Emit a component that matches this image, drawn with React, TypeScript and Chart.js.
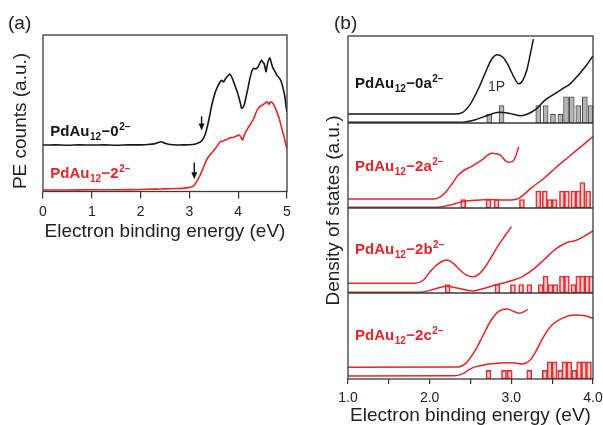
import React, { useEffect, useRef } from 'react';
import { Chart, registerables } from 'chart.js';

Chart.register(...registerables);

const FONT = '"Liberation Sans", Arial, Helvetica, sans-serif';

// ---------- Panel (a): photoelectron spectra ----------
const pesTickValues = [0, 1, 2, 3, 4, 5];
const pes0: [number, number][] = [
  [0, 29.7], [0.25, 29.8], [0.5, 29.6], [0.75, 29.8], [1, 29.7], [1.25, 29.8], [1.5, 29.6], [1.75, 29.8],
  [2, 29.8], [2.15, 30.0], [2.3, 30.6], [2.38, 31.5], [2.43, 31.8], [2.5, 30.8], [2.6, 30.0], [2.75, 29.7],
  [2.9, 29.8], [3.0, 29.9], [3.1, 30.2], [3.18, 31.0], [3.25, 32.3], [3.32, 36.1], [3.39, 44.6], [3.46, 55.3],
  [3.52, 62.5], [3.57, 66.5], [3.62, 69.5], [3.66, 71.0], [3.7, 70.0], [3.74, 72.0], [3.78, 73.6], [3.83, 75.0],
  [3.88, 72.3], [3.93, 68], [3.97, 64.5], [4.0, 61.7], [4.04, 57], [4.07, 53.2], [4.1, 53.8], [4.13, 56],
  [4.17, 61.7], [4.21, 67.5], [4.24, 72.3], [4.29, 77.6], [4.33, 78.8], [4.36, 78.3], [4.41, 79.7], [4.45, 82.5],
  [4.48, 84], [4.51, 82.3], [4.53, 81.9], [4.57, 76.5], [4.59, 80], [4.61, 82.9], [4.65, 85.5], [4.68, 81.9],
  [4.71, 79], [4.74, 77.6], [4.79, 74.4], [4.85, 72.3], [4.89, 69.5], [4.92, 65.9], [4.96, 60], [4.98, 54.2], [5.0, 51],
];
const pes2: [number, number][] = [
  [0, 1.0], [0.5, 1.0], [1, 1.1], [1.5, 1.1], [2, 1.3], [2.3, 1.5], [2.5, 1.7], [2.7, 1.9], [2.85, 2.0],
  [2.95, 2.3], [3.02, 2.7], [3.08, 3.4], [3.15, 6.3], [3.22, 10.5], [3.28, 14.8], [3.35, 20.1], [3.42, 23.3],
  [3.49, 25.9], [3.56, 28.6], [3.63, 31.8], [3.68, 32.2], [3.73, 32.9], [3.78, 33.4], [3.83, 34.4], [3.88, 34.4],
  [3.93, 35], [3.98, 35.6], [4.02, 36.1], [4.06, 34.5], [4.09, 32.9], [4.12, 35.5], [4.14, 37.2], [4.19, 40],
  [4.24, 42.5], [4.28, 44.5], [4.32, 46.8], [4.36, 50], [4.39, 52.1], [4.44, 54.2], [4.5, 55.3], [4.55, 56.4],
  [4.59, 57.4], [4.63, 55.7], [4.66, 57.4], [4.68, 57], [4.71, 56.5], [4.73, 55.3], [4.76, 53.5], [4.79, 51],
  [4.82, 48.5], [4.85, 45.7], [4.88, 42], [4.91, 38.2], [4.94, 35], [4.96, 31.8], [5.0, 27.6],
];
// threshold arrows (energy, top value, tip value)
const arrowEnergy = [3.25, 3.1];
const arrowFrom = [48, 18.5];
const arrowTo = [39, 7.8];

type Seg = [string, number]; // 0 normal, -1 subscript, 1 superscript
const nameA0: Seg[] = [['PdAu', 0], ['12', -1], ['−0', 0], ['2−', 1]];
const nameA2: Seg[] = [['PdAu', 0], ['12', -1], ['−2', 0], ['2−', 1]];

// ---------- Panel (b): density of states ----------
const dosTickValues = [1.0, 1.5, 2.0, 2.5, 3.0, 3.5, 4.0];

const up0a: [number, number][] = [
  [1.0, 1.03], [2.3, 1.03], [2.4, 1.2], [2.5, 2.2], [2.6, 4.0], [2.68, 5.75], [2.76, 7.36], [2.83, 7.85],
  [2.9, 7.53], [2.96, 6.67], [3.03, 5.3], [3.09, 4.5], [3.14, 4.9], [3.19, 6.1], [3.23, 7.8], [3.27, 9.65],
];
const low0a: [number, number][] = [
  [1.0, 0.08], [2.4, 0.1], [2.55, 0.35], [2.68, 0.77], [2.85, 1.23], [2.98, 1.1], [3.12, 0.84], [3.2, 1.03],
  [3.29, 1.5], [3.41, 2.6], [3.52, 3.3], [3.62, 3.9], [3.72, 4.5], [3.82, 5.5], [3.9, 6.4], [4.0, 7.7],
];
const bars0a: [number, number][] = [
  [2.73, 1], [2.88, 2], [3.33, 2], [3.42, 2], [3.51, 1], [3.6, 1], [3.67, 3], [3.74, 3], [3.82, 2], [3.9, 3], [3.97, 2],
];

const up2a: [number, number][] = [
  [1.0, 1.06], [2.05, 1.06], [2.12, 1.25], [2.19, 1.8], [2.27, 2.8], [2.35, 3.88], [2.43, 4.5], [2.51, 4.86],
  [2.64, 5.65], [2.76, 6.44], [2.86, 6.24], [2.96, 5.38], [3.01, 5.45], [3.05, 6.0], [3.09, 7.2],
];
const low2a: [number, number][] = [
  [1.0, 0.08], [2.1, 0.1], [2.25, 0.35], [2.4, 0.75], [2.55, 0.9], [2.72, 1.0], [2.9, 0.95], [3.0, 0.95],
  [3.1, 1.2], [3.25, 2.4], [3.4, 3.5], [3.55, 4.8], [3.7, 6.0], [3.85, 7.2], [4.0, 8.4],
];
const bars2a: [number, number][] = [
  [2.41, 1], [2.72, 1], [2.82, 1], [3.13, 1], [3.33, 2], [3.41, 2], [3.47, 1], [3.53, 1], [3.62, 2], [3.68, 2],
  [3.76, 2], [3.82, 2], [3.87, 3], [3.94, 2],
];

const up2b: [number, number][] = [
  [1.0, 1.14], [1.82, 1.14], [1.92, 1.5], [2.02, 2.67], [2.1, 3.4], [2.21, 3.88], [2.3, 3.4], [2.37, 2.7],
  [2.45, 2.1], [2.53, 1.9], [2.6, 2.2], [2.68, 3.06], [2.76, 4.3], [2.84, 5.6], [2.92, 6.7], [3.0, 7.8],
];
const low2b: [number, number][] = [
  [1.0, 0.08], [1.9, 0.1], [2.05, 0.45], [2.21, 0.8], [2.35, 0.55], [2.53, 0.25], [2.65, 0.5], [2.8, 0.93],
  [2.95, 1.3], [3.13, 1.9], [3.27, 2.8], [3.41, 4.0], [3.52, 5.0], [3.62, 5.65], [3.7, 6.0], [3.78, 6.15],
  [3.88, 6.6], [4.0, 7.3],
];
const bars2b: [number, number][] = [
  [2.22, 1], [2.83, 1], [3.02, 1], [3.12, 1], [3.22, 1], [3.36, 1], [3.42, 2], [3.48, 1], [3.54, 1], [3.62, 2],
  [3.68, 2], [3.76, 1], [3.82, 2], [3.87, 2], [3.93, 2], [3.98, 2],
];

const up2c: [number, number][] = [
  [1.0, 1.36], [2.35, 1.4], [2.45, 1.9], [2.55, 3.2], [2.65, 5.0], [2.75, 6.8], [2.85, 7.9], [2.95, 8.15],
  [3.03, 7.85], [3.1, 7.65], [3.15, 7.8], [3.2, 8.1],
];
const low2c: [number, number][] = [
  [1.0, 0.35], [2.3, 0.37], [2.4, 0.6], [2.51, 1.24], [2.62, 1.55], [2.72, 1.74], [2.85, 1.85], [2.96, 1.9],
  [3.05, 1.85], [3.13, 1.74], [3.23, 2.2], [3.3, 3.2], [3.37, 4.5], [3.44, 5.6], [3.5, 6.3], [3.62, 7.05],
  [3.78, 7.44], [3.9, 7.35], [4.0, 7.05],
];
const bars2c: [number, number][] = [
  [2.72, 1], [2.91, 1], [2.98, 1], [3.22, 1], [3.41, 1], [3.47, 2], [3.53, 2], [3.6, 1], [3.65, 2], [3.71, 2],
  [3.77, 1], [3.83, 2], [3.89, 2], [3.95, 2],
];

const name0a: Seg[] = [['PdAu', 0], ['12', -1], ['−0a', 0], ['2−', 1]];
const name2a: Seg[] = [['PdAu', 0], ['12', -1], ['−2a', 0], ['2−', 1]];
const name2b: Seg[] = [['PdAu', 0], ['12', -1], ['−2b', 0], ['2−', 1]];
const name2c: Seg[] = [['PdAu', 0], ['12', -1], ['−2c', 0], ['2−', 1]];

const BLACK = '#161616';
const RED = '#e3262c';

function drawRich(ctx: CanvasRenderingContext2D, segs: Seg[], x: number, y: number, size: number, color: string) {
  ctx.save();
  ctx.fillStyle = color;
  ctx.textAlign = 'left';
  ctx.textBaseline = 'alphabetic';
  let cx = x;
  for (const [t, k] of segs) {
    const fs = k === 0 ? size : Math.round(size * 0.64);
    ctx.font = `bold ${fs}px ${FONT}`;
    const dy = k === -1 ? size * 0.24 : k === 1 ? -size * 0.42 : 0;
    ctx.fillText(t, cx, y + dy);
    cx += ctx.measureText(t).width + 0.5;
  }
  ctx.restore();
}

const toXY = (arr: [number, number][]) => arr.map(([x, y]) => ({ x, y }));

const panelAPlugin = {
  id: 'panelA',
  afterDraw(chart: any) {
    const { ctx, chartArea: ca, scales } = chart;
    const xs = scales.x;
    const ys = scales.y;
    ctx.save();
    ctx.strokeStyle = '#3a3a3a';
    ctx.lineWidth = 1.3;
    ctx.strokeRect(ca.left, ca.top, ca.right - ca.left, ca.bottom - ca.top);
    arrowEnergy.forEach((e, i) => {
      const px = xs.getPixelForValue(e);
      const t = ys.getPixelForValue(arrowFrom[i]);
      const b = ys.getPixelForValue(arrowTo[i]);
      ctx.strokeStyle = '#111';
      ctx.fillStyle = '#111';
      ctx.lineWidth = 1.4;
      ctx.beginPath();
      ctx.moveTo(px, t);
      ctx.lineTo(px, b - 5);
      ctx.stroke();
      ctx.beginPath();
      ctx.moveTo(px - 3, b - 7);
      ctx.lineTo(px + 3, b - 7);
      ctx.lineTo(px, b);
      ctx.closePath();
      ctx.fill();
    });
    drawRich(ctx, nameA0, xs.getPixelForValue(0.15), ys.getPixelForValue(35.5), 15, BLACK);
    drawRich(ctx, nameA2, xs.getPixelForValue(0.15), ys.getPixelForValue(8.6), 15, RED);
    ctx.fillStyle = '#222';
    ctx.font = `19px ${FONT}`;
    ctx.textAlign = 'center';
    ctx.textBaseline = 'alphabetic';
    ctx.fillText('Electron binding energy (eV)', (ca.left + ca.right) / 2, 237);
    ctx.save();
    ctx.translate(26, 121);
    ctx.rotate(-Math.PI / 2);
    ctx.fillText('PE counts (a.u.)', 0, 0);
    ctx.restore();
    ctx.textAlign = 'left';
    ctx.fillText('(a)', 8, 29);
    ctx.restore();
  },
};

const subIds = ['y0', 'y1', 'y2', 'y3'];
const subNames = [name0a, name2a, name2b, name2c];
const subColors = [BLACK, RED, RED, RED];
const subLabelY = [4.0, 4.35, 4.6, 4.5];

const panelBPlugin = {
  id: 'panelB',
  afterDraw(chart: any) {
    const { ctx, chartArea: ca, scales } = chart;
    const xs = scales.x;
    ctx.save();
    ctx.strokeStyle = '#3a3a3a';
    ctx.lineWidth = 1.3;
    ctx.strokeRect(ca.left, ca.top, ca.right - ca.left, ca.bottom - ca.top);
    for (let i = 0; i < 3; i++) {
      const yb = scales[subIds[i]].bottom;
      ctx.beginPath();
      ctx.moveTo(ca.left, yb);
      ctx.lineTo(ca.right, yb);
      ctx.stroke();
    }
    subIds.forEach((id, i) => {
      drawRich(ctx, subNames[i], xs.getPixelForValue(1.086), scales[id].getPixelForValue(subLabelY[i]), 15, subColors[i]);
    });
    ctx.fillStyle = '#333';
    ctx.font = `14px ${FONT}`;
    ctx.textAlign = 'center';
    ctx.textBaseline = 'alphabetic';
    ctx.fillText('1P', xs.getPixelForValue(2.82), scales.y0.getPixelForValue(3.7));
    ctx.fillStyle = '#222';
    ctx.font = `19px ${FONT}`;
    ctx.fillText('Electron binding energy (eV)', (ca.left + ca.right) / 2, 420.5);
    ctx.save();
    ctx.translate(39, (ca.top + ca.bottom) / 2 + 3);
    ctx.rotate(-Math.PI / 2);
    ctx.fillText('Density of states (a.u.)', 0, 0);
    ctx.restore();
    ctx.textAlign = 'left';
    ctx.fillText('(b)', 34, 29);
    ctx.restore();
  },
};

export default function App() {
  const refA = useRef<HTMLCanvasElement | null>(null);
  const refB = useRef<HTMLCanvasElement | null>(null);

  useEffect(() => {
    const tickFont = { size: 14, family: FONT };
    const lineDs = (data: [number, number][], color: string, yAxisID: string, width: number, smooth: boolean) => ({
      type: 'line' as const,
      data: toXY(data),
      yAxisID,
      borderColor: color,
      backgroundColor: color,
      borderWidth: width,
      pointRadius: 0,
      fill: false,
      tension: smooth ? 0 : 0.15,
      cubicInterpolationMode: smooth ? ('monotone' as const) : ('default' as const),
    });

    const chartA = new Chart(refA.current as HTMLCanvasElement, {
      type: 'line',
      data: {
        datasets: [
          lineDs(pes0, BLACK, 'y', 1.6, false),
          lineDs(pes2, RED, 'y', 1.6, false),
        ] as any,
      },
      options: {
        animation: false,
        responsive: false,
        events: [],
        layout: { padding: { top: 35, right: 13, left: 0, bottom: 0 } },
        plugins: { legend: { display: false }, tooltip: { enabled: false } },
        scales: {
          x: {
            type: 'linear',
            min: 0,
            max: 5,
            offset: false,
            afterBuildTicks: (s: any) => { s.ticks = pesTickValues.map((v) => ({ value: v })); },
            ticks: { font: tickFont, color: '#222', autoSkip: false, maxRotation: 0, padding: 5 },
            grid: { display: true, drawOnChartArea: false, drawTicks: true, tickLength: 7, color: '#333', lineWidth: 1.2, offset: false },
            border: { display: false },
            afterFit: (s: any) => { s.height = 58.5; s.paddingLeft = 0; s.paddingRight = 0; },
          },
          y: {
            type: 'linear',
            min: 0,
            max: 100,
            ticks: { display: false },
            grid: { display: false },
            border: { display: false },
            afterFit: (s: any) => { s.width = 43; },
          },
        } as any,
      },
      plugins: [panelAPlugin],
    });

    const subWeights = [87, 85, 85, 86];
    const yScales: any = {};
    subIds.forEach((id, i) => {
      yScales[id] = {
        type: 'linear',
        position: 'left',
        stack: 'dos',
        stackWeight: subWeights[i],
        weight: 4 - i,
        min: 0,
        max: 10,
        stacked: false,
        offset: false,
        ticks: { display: false },
        grid: { display: false },
        border: { display: false },
        afterFit: (s: any) => { s.width = 48; },
      };
    });

    const barDs = (data: [number, number][], yAxisID: string, fill: string, stroke: string) => ({
      type: 'bar' as const,
      data: toXY(data),
      yAxisID,
      backgroundColor: fill,
      borderColor: stroke,
      borderWidth: 1,
      borderSkipped: false,
      barThickness: 5,
      stack: 'bars',
      grouped: true,
    });

    const redFill = 'rgba(240, 120, 120, 0.35)';
    const chartB = new Chart(refB.current as HTMLCanvasElement, {
      type: 'line',
      data: {
        datasets: [
          lineDs(up0a, BLACK, 'y0', 1.5, true),
          lineDs(low0a, BLACK, 'y0', 1.5, true),
          lineDs(up2a, RED, 'y1', 1.5, true),
          lineDs(low2a, RED, 'y1', 1.5, true),
          lineDs(up2b, RED, 'y2', 1.5, true),
          lineDs(low2b, RED, 'y2', 1.5, true),
          lineDs(up2c, RED, 'y3', 1.5, true),
          lineDs(low2c, RED, 'y3', 1.5, true),
          barDs(bars0a, 'y0', '#b5b5b5', '#4a4a4a'),
          barDs(bars2a, 'y1', redFill, RED),
          barDs(bars2b, 'y2', redFill, RED),
          barDs(bars2c, 'y3', redFill, RED),
        ] as any,
      },
      options: {
        animation: false,
        responsive: false,
        events: [],
        layout: { padding: { top: 36, right: 10, left: 0, bottom: 0 } },
        plugins: { legend: { display: false }, tooltip: { enabled: false } },
        scales: {
          x: {
            type: 'linear',
            min: 1,
            max: 4,
            offset: false,
            afterBuildTicks: (s: any) => { s.ticks = dosTickValues.map((v) => ({ value: v })); },
            ticks: {
              font: tickFont,
              color: '#222',
              autoSkip: false,
              maxRotation: 0,
              padding: 6,
              callback: (v: any) => (Math.abs(v - Math.round(v)) < 1e-9 ? Number(v).toFixed(1) : ''),
            },
            grid: { display: true, drawOnChartArea: false, drawTicks: true, tickLength: 5, color: '#333', lineWidth: 1.2, offset: false },
            border: { display: false },
            afterFit: (s: any) => { s.height = 46; s.paddingLeft = 0; s.paddingRight = 0; },
          },
          ...yScales,
        } as any,
      },
      plugins: [panelBPlugin],
    });

    return () => {
      chartA.destroy();
      chartB.destroy();
    };
  }, []);

  return (
    <div style={{ position: 'absolute', left: 0, top: 0, width: 603, height: 425, background: '#fff', overflow: 'hidden' }}>
      <canvas ref={refA} width={300} height={250} style={{ position: 'absolute', left: 0, top: 0 }} />
      <canvas ref={refB} width={303} height={425} style={{ position: 'absolute', left: 300, top: 0 }} />
    </div>
  );
}
